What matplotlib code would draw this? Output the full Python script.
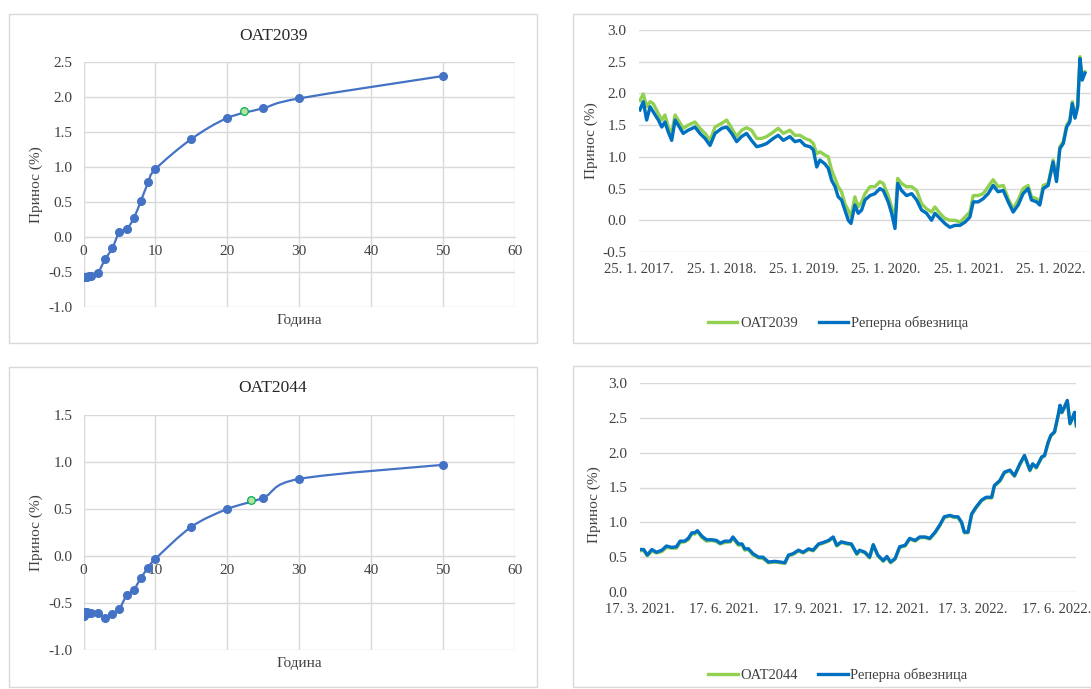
import matplotlib
matplotlib.use('Agg')
import matplotlib.pyplot as plt
import numpy as np
from matplotlib.path import Path
from matplotlib.patches import PathPatch, Rectangle

plt.rcParams['font.family'] = ['Liberation Serif', 'DejaVu Serif']
plt.rcParams['font.size'] = 11

W, H = 1091, 689

# Yield curves: maturity (years) and yield (%)
maturities = [0.08, 0.25, 0.5, 0.75, 1, 2, 3, 4, 5, 6, 7, 8, 9, 10, 15, 20, 25, 30, 50]
curve_2039 = [-0.57, -0.57, -0.57, -0.56, -0.55, -0.51, -0.32, -0.16, 0.07, 0.11,
              0.27, 0.52, 0.78, 0.97, 1.40, 1.70, 1.84, 1.98, 2.30]
curve_2044 = [-0.64, -0.60, -0.60, -0.61, -0.61, -0.61, -0.66, -0.62, -0.56, -0.42,
              -0.36, -0.23, -0.125, -0.03, 0.31, 0.50, 0.62, 0.82, 0.97]
oat2039_mat, oat2039_yield = [22.3], [1.80]
oat2044_mat, oat2044_yield = [23.3], [0.60]
curve_xticks = [0, 10, 20, 30, 40, 50, 60]
curve_2039_yticks = [-1.0, -0.5, 0.0, 0.5, 1.0, 1.5, 2.0, 2.5]
curve_2044_yticks = [-1.0, -0.5, 0.0, 0.5, 1.0, 1.5]

# OAT2039 vs benchmark, days since 25.1.2017
ts39_start = '2017-01-25'
ts39_days = [4, 19, 34, 49, 63, 86, 101, 115, 130, 145,
             160, 174, 196, 218, 248, 270, 293, 315, 337, 367,
             389, 411, 433, 455, 477, 499, 522, 544, 566, 595,
             617, 640, 669, 691, 714, 736, 758, 773, 788, 802,
             824, 839, 854, 869, 883, 898, 913, 928, 940, 957,
             972, 987, 1002, 1024, 1046, 1068, 1083, 1105, 1120, 1135,
             1147, 1164, 1186, 1209, 1231, 1253, 1275, 1297, 1312, 1334,
             1356, 1378, 1401, 1423, 1445, 1467, 1482, 1504, 1526, 1548,
             1570, 1592, 1615, 1637, 1659, 1681, 1703, 1725, 1740, 1763,
             1777, 1792, 1814, 1836, 1851, 1866, 1881, 1896, 1910, 1921,
             1933, 1945, 1955, 1965, 1977]
ts39_oat = [1.89, 1.99, 1.79, 1.87, 1.84, 1.68, 1.58, 1.66, 1.47, 1.37,
            1.66, 1.58, 1.45, 1.50, 1.55, 1.45, 1.37, 1.26, 1.47, 1.53,
            1.58, 1.45, 1.32, 1.42, 1.46, 1.42, 1.29, 1.29, 1.32, 1.39,
            1.45, 1.37, 1.42, 1.34, 1.34, 1.29, 1.26, 1.21, 1.05, 1.08,
            1.03, 1.00, 0.79, 0.66, 0.53, 0.45, 0.26, 0.16, 0.05, 0.37,
            0.21, 0.29, 0.42, 0.53, 0.53, 0.61, 0.58, 0.39, 0.21, 0.00,
            0.66, 0.58, 0.53, 0.53, 0.47, 0.26, 0.18, 0.13, 0.21, 0.11,
            0.03, 0.00, 0.00, -0.03, 0.05, 0.13, 0.39, 0.39, 0.42, 0.53,
            0.64, 0.53, 0.55, 0.34, 0.18, 0.32, 0.50, 0.55, 0.37, 0.34,
            0.29, 0.55, 0.58, 0.95, 0.63, 1.16, 1.24, 1.50, 1.58, 1.87,
            1.64, 1.82, 2.58, 2.24, 2.34]
ts39_bench = [1.74, 1.87, 1.58, 1.79, 1.71, 1.58, 1.47, 1.55, 1.39, 1.26,
              1.58, 1.50, 1.37, 1.42, 1.47, 1.37, 1.29, 1.18, 1.37, 1.45,
              1.47, 1.37, 1.24, 1.32, 1.37, 1.26, 1.16, 1.18, 1.21, 1.29,
              1.34, 1.26, 1.32, 1.24, 1.26, 1.18, 1.16, 1.11, 0.84, 0.95,
              0.89, 0.82, 0.63, 0.53, 0.37, 0.32, 0.16, 0.00, -0.05, 0.24,
              0.11, 0.16, 0.32, 0.39, 0.42, 0.50, 0.47, 0.29, 0.11, -0.13,
              0.58, 0.47, 0.39, 0.42, 0.32, 0.16, 0.11, 0.00, 0.11, 0.03,
              -0.05, -0.11, -0.08, -0.08, -0.03, 0.05, 0.29, 0.29, 0.34, 0.42,
              0.55, 0.45, 0.47, 0.29, 0.13, 0.24, 0.42, 0.50, 0.32, 0.29,
              0.24, 0.50, 0.55, 0.92, 0.61, 1.13, 1.21, 1.47, 1.55, 1.84,
              1.61, 1.79, 2.55, 2.21, 2.32]
ts39_tick_dates = ['2017-01-25', '2018-01-25', '2019-01-25', '2020-01-25', '2021-01-25', '2022-01-25']
ts39_tick_labels = ['25. 1. 2017.', '25. 1. 2018.', '25. 1. 2019.', '25. 1. 2020.', '25. 1. 2021.', '25. 1. 2022.']

# OAT2044 vs benchmark, days since 17.3.2021
ts44_start = '2021-03-17'
ts44_days = [0, 4, 8, 13, 18, 24, 29, 35, 40, 44,
             49, 53, 57, 60, 63, 68, 73, 79, 84, 88,
             93, 99, 102, 108, 112, 115, 119, 124, 130, 135,
             141, 148, 154, 159, 163, 168, 174, 179, 185, 190,
             196, 201, 207, 212, 216, 221, 227, 232, 238, 241,
             247, 252, 256, 261, 267, 271, 275, 280, 285, 291,
             296, 302, 307, 313, 318, 324, 329, 334, 340, 345,
             349, 353, 356, 360, 364, 369, 375, 380, 386, 389,
             395, 400, 406, 411, 417, 422, 428, 431, 435, 441,
             444, 448, 451, 455, 459, 461, 463, 465, 469, 472,
             475, 477, 479]
ts44_bench = [0.61, 0.61, 0.53, 0.61, 0.57, 0.60, 0.66, 0.64, 0.65, 0.73,
              0.73, 0.77, 0.85, 0.85, 0.88, 0.80, 0.75, 0.75, 0.74, 0.70,
              0.73, 0.73, 0.79, 0.69, 0.69, 0.62, 0.62, 0.55, 0.50, 0.50,
              0.43, 0.44, 0.43, 0.42, 0.53, 0.55, 0.60, 0.57, 0.62, 0.60,
              0.69, 0.71, 0.74, 0.79, 0.67, 0.72, 0.70, 0.69, 0.55, 0.60,
              0.57, 0.50, 0.68, 0.53, 0.45, 0.51, 0.43, 0.48, 0.65, 0.67,
              0.77, 0.74, 0.79, 0.79, 0.77, 0.86, 0.96, 1.08, 1.10, 1.08,
              1.08, 1.00, 0.86, 0.86, 1.12, 1.22, 1.32, 1.36, 1.36, 1.53,
              1.60, 1.72, 1.75, 1.67, 1.84, 1.96, 1.75, 1.84, 1.79, 1.94,
              1.96, 2.15, 2.25, 2.30, 2.54, 2.68, 2.58, 2.63, 2.75, 2.42,
              2.51, 2.58, 2.39]
ts44_oat = [0.59, 0.60, 0.52, 0.59, 0.56, 0.58, 0.64, 0.63, 0.63, 0.71,
            0.72, 0.75, 0.84, 0.83, 0.87, 0.78, 0.73, 0.74, 0.72, 0.69,
            0.71, 0.72, 0.77, 0.67, 0.68, 0.60, 0.61, 0.53, 0.49, 0.48,
            0.42, 0.43, 0.42, 0.41, 0.52, 0.54, 0.59, 0.56, 0.61, 0.59,
            0.68, 0.70, 0.73, 0.78, 0.66, 0.71, 0.69, 0.68, 0.54, 0.59,
            0.56, 0.49, 0.67, 0.52, 0.44, 0.50, 0.42, 0.47, 0.64, 0.66,
            0.76, 0.73, 0.78, 0.78, 0.76, 0.85, 0.95, 1.07, 1.09, 1.07,
            1.07, 0.99, 0.85, 0.85, 1.11, 1.21, 1.31, 1.35, 1.35, 1.52,
            1.59, 1.71, 1.74, 1.66, 1.83, 1.95, 1.74, 1.83, 1.78, 1.93,
            1.95, 2.14, 2.24, 2.29, 2.53, 2.67, 2.57, 2.62, 2.74, 2.41,
            2.50, 2.57, 2.38]
ts44_tick_dates = ['2021-03-17', '2021-06-17', '2021-09-17', '2021-12-17', '2022-03-17', '2022-06-17']
ts44_tick_labels = ['17. 3. 2021.', '17. 6. 2021.', '17. 9. 2021.', '17. 12. 2021.', '17. 3. 2022.', '17. 6. 2022.']

GRID = '#d9d9d9'
TXT = '#404040'
CURVE_BLUE = '#4472c4'
OAT_GREEN = '#92d050'
BENCH_BLUE = '#0070c0'

fig = plt.figure(figsize=(W / 100, H / 100), dpi=100)
fig.patch.set_facecolor('white')


def px_axes(x0, y0, x1, y1):
    return fig.add_axes([x0 / W, 1 - y1 / H, (x1 - x0) / W, (y1 - y0) / H])


def px_box(x0, y0, x1, y1):
    fig.add_artist(Rectangle((x0 / W, 1 - y1 / H), (x1 - x0) / W, (y1 - y0) / H,
                             transform=fig.transFigure, fill=False,
                             edgecolor=GRID, linewidth=1))


def smooth_path(xs, ys):
    # Excel-like smoothed line (Catmull-Rom as cubic Bezier)
    pts = np.column_stack([xs, ys]).astype(float)
    ext = np.vstack([pts[0], pts, pts[-1]])
    verts = [pts[0]]
    codes = [Path.MOVETO]
    for i in range(len(pts) - 1):
        p0, p1, p2, p3 = ext[i], ext[i + 1], ext[i + 2], ext[i + 3]
        verts += [p1 + (p2 - p0) / 6, p2 - (p3 - p1) / 6, p2]
        codes += [Path.CURVE4] * 3
    return Path(verts, codes)


def yield_curve(ax, curve, pt_x, pt_y, yticks, title, title_y):
    ax.add_patch(PathPatch(smooth_path(maturities, curve), fill=False,
                           edgecolor=CURVE_BLUE, linewidth=1.6, zorder=3))
    ax.plot(maturities, curve, 'o', color=CURVE_BLUE, markersize=5.5, zorder=4)
    ax.plot(pt_x, pt_y, 'o', markerfacecolor='#b4e3a4', markeredgecolor='#00b050',
            markersize=5.5, markeredgewidth=0.9, zorder=5)
    ax.set_xlim(curve_xticks[0], curve_xticks[-1])
    ax.set_ylim(yticks[0], yticks[-1])
    ax.set_xticks(curve_xticks)
    ax.set_xticklabels([str(t) for t in curve_xticks])
    ax.set_yticks(yticks)
    ax.set_yticklabels(['%.1f' % t for t in yticks])
    ax.grid(True, color=GRID, linewidth=1)
    ax.set_axisbelow(True)
    for s in ['top', 'right', 'left']:
        ax.spines[s].set_visible(False)
    ax.spines['bottom'].set_position(('data', 0))
    ax.spines['bottom'].set_color(GRID)
    ax.tick_params(axis='both', length=0, labelsize=11, labelcolor=TXT)
    ax.tick_params(axis='x', pad=6)
    ax.tick_params(axis='y', pad=8)
    ax.set_xlabel('Година', fontsize=11, color=TXT)
    ax.set_ylabel('Принос (%)', fontsize=11, color=TXT)
    ax.yaxis.set_label_coords(-0.093, 0.5)
    fig.text(273 / W, 1 - title_y / H, title, ha='center', va='center',
             fontsize=12.5, color='#262626')


def yield_series(ax, start, days, oat, bench, oat_label, xmax, yticks,
                 tick_dates, tick_labels, legend_y, ylabel_y):
    base = np.datetime64(start)
    dates = base + np.array(days, dtype='timedelta64[D]')
    ax.plot(dates, oat, color=OAT_GREEN, linewidth=2.4, label=oat_label, zorder=3)
    ax.plot(dates, bench, color=BENCH_BLUE, linewidth=2.4, label='Реперна обвезница', zorder=4)
    ax.set_xlim(base, base + np.timedelta64(xmax, 'D'))
    ax.set_ylim(yticks[0], yticks[-1])
    ax.set_xticks([np.datetime64(d) for d in tick_dates])
    ax.set_xticklabels(tick_labels)
    ax.set_yticks(yticks)
    ax.set_yticklabels(['%.1f' % t for t in yticks])
    ax.grid(True, axis='y', color=GRID, linewidth=1)
    ax.grid(False, axis='x')
    ax.set_axisbelow(True)
    for s in ax.spines.values():
        s.set_visible(False)
    ax.tick_params(axis='both', length=0, labelcolor=TXT)
    ax.tick_params(axis='x', pad=8, labelsize=10.5)
    ax.tick_params(axis='y', pad=9, labelsize=11)
    ax.set_ylabel('Принос (%)', fontsize=11, color=TXT)
    ax.yaxis.set_label_coords(-0.09, ylabel_y)
    ax.legend(loc='center', bbox_to_anchor=(838 / W, 1 - legend_y / H),
              bbox_transform=fig.transFigure, ncol=2, frameon=False,
              fontsize=10.5, handlelength=2.0, handletextpad=0.2,
              columnspacing=1.4, labelcolor=TXT)


# panel frames
px_box(9, 14, 537, 343)
px_box(573, 14, 1100, 343)
px_box(9, 367, 537, 687)
px_box(573, 366, 1100, 687)

ax1 = px_axes(83.5, 62, 515, 307)
yield_curve(ax1, curve_2039, oat2039_mat, oat2039_yield, curve_2039_yticks, 'OAT2039', 36)
ax1.xaxis.set_label_coords(0.5, -0.03)

ax3 = px_axes(83.5, 415, 515, 650)
yield_curve(ax3, curve_2044, oat2044_mat, oat2044_yield, curve_2044_yticks, 'OAT2044', 388)
ax3.xaxis.set_label_coords(0.5, -0.03)

ax2 = px_axes(639, 30, 1091, 252)
yield_series(ax2, ts39_start, ts39_days, ts39_oat, ts39_bench, 'OAT2039', 2004,
             [-0.5, 0.0, 0.5, 1.0, 1.5, 2.0, 2.5, 3.0],
             ts39_tick_dates, ts39_tick_labels, 323, 0.5)

ax4 = px_axes(640, 383, 1076.4, 592)
yield_series(ax4, ts44_start, ts44_days, ts44_oat, ts44_bench, 'OAT2044', 479,
             [0.0, 0.5, 1.0, 1.5, 2.0, 2.5, 3.0],
             ts44_tick_dates, ts44_tick_labels, 675, 0.42)

fig.savefig('out.png', dpi=100, facecolor='white')
